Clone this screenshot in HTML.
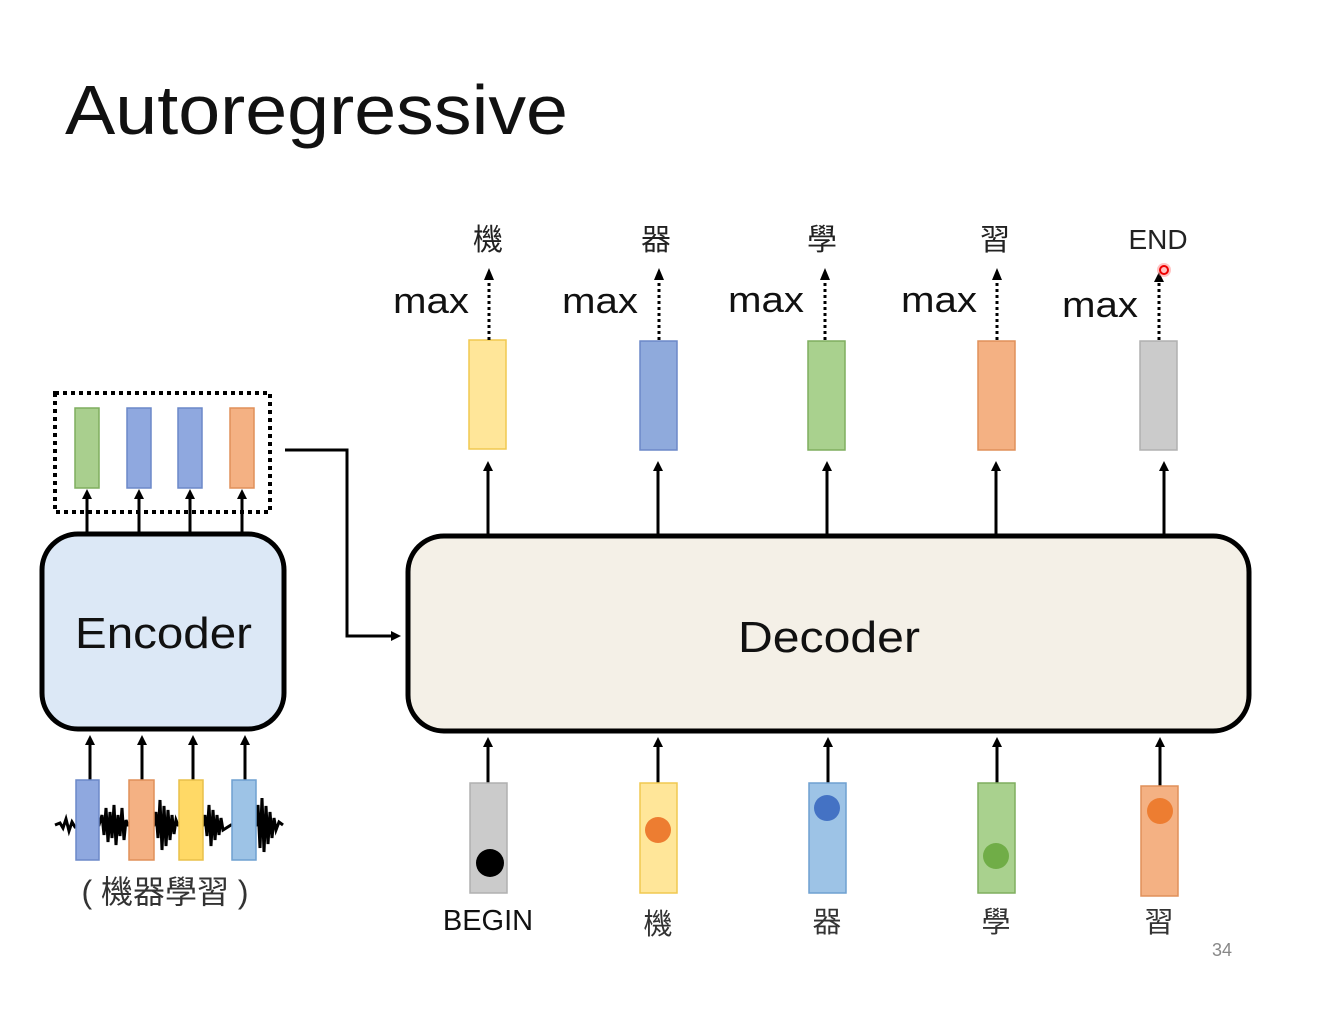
<!DOCTYPE html>
<html><head><meta charset="utf-8"><style>
body{margin:0;background:#fff;width:1330px;height:1008px;overflow:hidden}
svg text{font-family:"Liberation Sans","Noto Sans CJK TC",sans-serif}
</style></head><body>
<svg width="1330" height="1008" viewBox="0 0 1330 1008" xmlns="http://www.w3.org/2000/svg">
<defs>
<marker id="a" markerWidth="10" markerHeight="10" refX="5" refY="5" orient="auto" markerUnits="userSpaceOnUse"><path d="M0,0 L10,5 L0,10 z" fill="#000"/></marker>
</defs>
<text x="65" y="134" font-size="70" fill="#111" textLength="503" lengthAdjust="spacingAndGlyphs">Autoregressive</text>

<!-- encoder -->
<rect x="55" y="393" width="215" height="119" fill="none" stroke="#000" stroke-width="4" stroke-dasharray="4,4"/>
<g stroke-width="1.5">
<rect x="75" y="408" width="24" height="80" fill="#a9cf8e" stroke="#7fae5f"/>
<rect x="127" y="408" width="24" height="80" fill="#8fa8df" stroke="#6c88c8"/>
<rect x="178" y="408" width="24" height="80" fill="#8fa8df" stroke="#6c88c8"/>
<rect x="230" y="408" width="24" height="80" fill="#f4b183" stroke="#e0905a"/>
</g>
<g stroke="#000" stroke-width="3" marker-end="url(#a)">
<line x1="87" y1="533" x2="87" y2="494"/><line x1="139" y1="533" x2="139" y2="494"/>
<line x1="190" y1="533" x2="190" y2="494"/><line x1="242" y1="533" x2="242" y2="494"/>
</g>
<rect x="42" y="534" width="242" height="195" rx="36" fill="#dce8f6" stroke="#000" stroke-width="5"/>
<text x="75" y="648" font-size="44" fill="#111" textLength="177" lengthAdjust="spacingAndGlyphs">Encoder</text>
<g stroke="#000" stroke-width="3" marker-end="url(#a)">
<line x1="90" y1="780" x2="90" y2="740"/><line x1="142" y1="780" x2="142" y2="740"/>
<line x1="193" y1="780" x2="193" y2="740"/><line x1="245" y1="780" x2="245" y2="740"/>
</g>
<path d="M55,825 L60,823 63,828 66,819 69,831 72,822 75,827 99,825 102,815 104,835 106,808 108,842 110,812 112,838 114,805 116,845 118,815 120,836 122,808 124,840 126,820 128,825 154,825 156,812 158,838 160,800 162,850 164,806 166,846 168,810 170,840 172,815 174,834 176,820 178,825 203,825 205,815 207,836 209,805 211,846 213,810 215,840 217,815 219,835 221,818 223,830 231,825 256,825 258,805 260,848 262,798 264,852 266,806 268,844 270,812 272,838 274,818 276,830 279,822 283,825" fill="none" stroke="#000" stroke-width="3"/>
<g stroke-width="1.5">
<rect x="76" y="780" width="23" height="80" fill="#8fa8df" stroke="#6c88c8"/>
<rect x="129" y="780" width="25" height="80" fill="#f4b183" stroke="#e0905a"/>
<rect x="179" y="780" width="24" height="80" fill="#ffd966" stroke="#e8c04a"/>
<rect x="232" y="780" width="24" height="80" fill="#9dc3e6" stroke="#6fa0d0"/>
</g>
<text x="165" y="903" font-size="32" text-anchor="middle" fill="#333">( 機器學習 )</text>

<!-- connector -->
<path d="M285,450 H347 V636 H396" fill="none" stroke="#000" stroke-width="3" marker-end="url(#a)"/>

<!-- decoder -->
<rect x="408" y="536" width="841" height="195" rx="36" fill="#f4f0e7" stroke="#000" stroke-width="5"/>
<text x="738" y="652" font-size="44" fill="#111" textLength="182" lengthAdjust="spacingAndGlyphs">Decoder</text>

<g stroke="#000" stroke-width="3" marker-end="url(#a)">
<line x1="488" y1="535" x2="488" y2="466"/><line x1="658" y1="535" x2="658" y2="466"/>
<line x1="827" y1="535" x2="827" y2="466"/><line x1="996" y1="535" x2="996" y2="466"/>
<line x1="1164" y1="535" x2="1164" y2="466"/>
</g>
<g stroke-width="1.5">
<rect x="469" y="340" width="37" height="109" fill="#ffe699" stroke="#f0c850"/>
<rect x="640" y="341" width="37" height="109" fill="#8faadc" stroke="#6c88c8"/>
<rect x="808" y="341" width="37" height="109" fill="#a9d18e" stroke="#7fae5f"/>
<rect x="978" y="341" width="37" height="109" fill="#f4b183" stroke="#e0905a"/>
<rect x="1140" y="341" width="37" height="109" fill="#cbcbcb" stroke="#b0b0b0"/>
</g>
<g stroke="#000" stroke-width="3" stroke-dasharray="3,3">
<line x1="489" y1="340" x2="489" y2="278"/><line x1="659" y1="340" x2="659" y2="278"/>
<line x1="825" y1="340" x2="825" y2="278"/><line x1="997" y1="340" x2="997" y2="278"/>
<line x1="1159" y1="340" x2="1159" y2="280"/>
</g>
<g fill="#000">
<path d="M484,280 L489,268 L494,280z"/><path d="M654,280 L659,268 L664,280z"/>
<path d="M820,280 L825,268 L830,280z"/><path d="M992,280 L997,268 L1002,280z"/>
<path d="M1154,282 L1159,272 L1164,282z"/>
</g>
<circle cx="1164" cy="270" r="7" fill="#f88" opacity="0.5"/>
<circle cx="1164" cy="270" r="4" fill="none" stroke="#e00" stroke-width="2"/>
<g font-size="36" fill="#111">
<text x="393" y="313" textLength="76" lengthAdjust="spacingAndGlyphs">max</text>
<text x="562" y="313" textLength="76" lengthAdjust="spacingAndGlyphs">max</text>
<text x="728" y="312" textLength="76" lengthAdjust="spacingAndGlyphs">max</text>
<text x="901" y="312" textLength="76" lengthAdjust="spacingAndGlyphs">max</text>
<text x="1062" y="317" textLength="76" lengthAdjust="spacingAndGlyphs">max</text>
</g>
<g font-size="30" fill="#222" text-anchor="middle">
<text x="488" y="250">機</text><text x="656" y="250">器</text>
<text x="822" y="250">學</text><text x="995" y="250">習</text>
<text x="1158" y="249" font-size="28">END</text>
</g>

<g stroke="#000" stroke-width="3" marker-end="url(#a)">
<line x1="488" y1="783" x2="488" y2="742"/><line x1="658" y1="783" x2="658" y2="742"/>
<line x1="828" y1="783" x2="828" y2="742"/><line x1="997" y1="783" x2="997" y2="742"/>
<line x1="1160" y1="786" x2="1160" y2="742"/>
</g>
<g stroke-width="1.5">
<rect x="470" y="783" width="37" height="110" fill="#cbcbcb" stroke="#b0b0b0"/>
<rect x="640" y="783" width="37" height="110" fill="#ffe699" stroke="#f0c850"/>
<rect x="809" y="783" width="37" height="110" fill="#9dc3e6" stroke="#6fa0d0"/>
<rect x="978" y="783" width="37" height="110" fill="#a9d18e" stroke="#7fae5f"/>
<rect x="1141" y="786" width="37" height="110" fill="#f4b183" stroke="#e0905a"/>
</g>
<circle cx="490" cy="863" r="14" fill="#000"/>
<circle cx="658" cy="830" r="13" fill="#ed7d31"/>
<circle cx="827" cy="808" r="13" fill="#4472c4"/>
<circle cx="996" cy="856" r="13" fill="#70ad47"/>
<circle cx="1160" cy="811" r="13" fill="#ed7d31"/>
<g font-size="29" fill="#111" text-anchor="middle">
<text x="488" y="930">BEGIN</text>
<text x="658" y="934" fill="#333">機</text><text x="827" y="932" fill="#333">器</text>
<text x="996" y="932" fill="#333">學</text><text x="1159" y="932" fill="#333">習</text>
</g>
<text x="1222" y="956" font-size="18" fill="#888" text-anchor="middle">34</text>
</svg>
</body></html>
